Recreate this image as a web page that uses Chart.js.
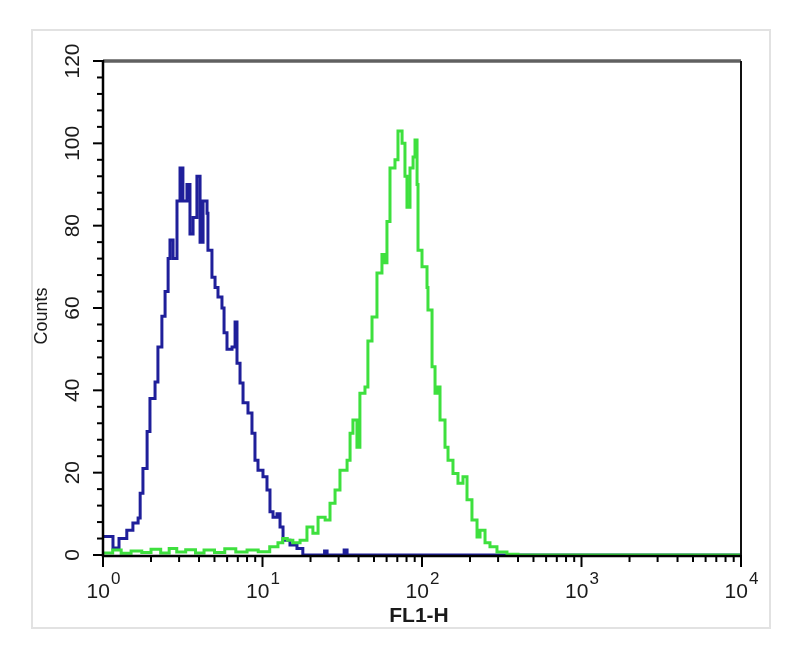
<!DOCTYPE html>
<html>
<head>
<meta charset="utf-8">
<script src="https://cdn.jsdelivr.net/npm/chart.js@4"></script>
<style>
  html, body { margin: 0; padding: 0; background: #fff; }
  #wrap { width: 800px; height: 656px; position: relative; }
</style>
</head>
<body>
<div id="wrap"><canvas id="histChart" width="800" height="656"></canvas></div>
<script>
// FL1-H channel values (x) and counts (y)
const blueX = [1.0, 1.155, 1.26, 1.41, 1.54, 1.66, 1.71, 1.78, 1.89, 1.97, 2.12, 2.21, 2.34, 2.45, 2.56, 2.63, 2.75, 2.91, 3.04, 3.17, 3.36, 3.51, 3.67, 3.88, 4.06, 4.24, 4.49, 4.55, 4.82, 5.04, 5.26, 5.57, 5.74, 5.99, 6.44, 6.73, 6.92, 7.23, 7.55, 8.11, 8.59, 8.97, 9.37, 10.07, 10.67, 11.14, 11.64, 12.33, 12.88, 13.45, 14.87, 16.45, 17.9, 24.5, 25.4, 32.5, 33.9, 10000];
const blueCounts = [4.5, 1.7, 4, 6, 7.8, 9, 15, 21, 30, 38, 42, 50.5, 58, 64, 72, 76.5, 72, 86, 94, 86, 90, 78, 82, 92, 76, 86, 83, 74, 67.5, 65, 62.7, 60, 54, 50, 50.5, 56.6, 46.6, 41.8, 37, 34.5, 29.6, 23, 20.6, 19, 15.8, 10.5, 9.2, 10, 6.8, 3.6, 2.4, 1.6, 0, 1, 0, 1.2, 0, 0];

const greenX = [1.0, 1.15, 1.3, 1.5, 1.75, 2.0, 2.3, 2.6, 2.9, 3.3, 3.8, 4.3, 5.0, 5.8, 6.8, 8.0, 9.4, 11.1, 12.5, 13.4, 14.3, 15.5, 17.2, 19.0, 20.7, 22.3, 24.7, 26.5, 28.5, 30.6, 33.9, 35.4, 36.9, 39.1, 40.8, 43.9, 45.8, 48.6, 52.2, 56.1, 58.6, 60.3, 63.0, 67.7, 70.7, 75.0, 78.2, 80.5, 84.1, 87.9, 90.4, 93.1, 94.4, 100, 107.5, 109, 115.6, 120.7, 124.2, 129.7, 139.4, 145.6, 156.4, 168.1, 180.7, 191.5, 205.7, 221.3, 231.1, 248.4, 266.8, 295.1, 341, 400, 10000];
const greenCounts = [0.5, 1.2, 0.4, 1.0, 0.6, 1.4, 0.5, 1.6, 0.7, 1.3, 0.5, 1.2, 0.6, 1.5, 0.7, 1.2, 0.8, 2, 3, 4, 3.6, 3, 3.6, 6.8, 5.3, 9.2, 8.5, 12.6, 15.8, 20.6, 23, 29.6, 32.8, 26.2, 39.3, 40.8, 52, 57.8, 68.5, 73, 71, 81, 94, 96, 103, 100, 92, 84.5, 94, 96.7, 100.8, 90, 74, 70, 65, 59.5, 45.7, 39.3, 40.8, 32.8, 26.2, 23, 19.8, 17.4, 19, 13.4, 8.5, 4.4, 6, 3, 2, 0.7, 0.2, 0, 0];

// axis ticks
const xDecades = [1, 10, 100, 1000, 10000];
const xExponents = ['0', '1', '2', '3', '4'];
const xMinorSteps = [2, 3, 4, 5, 6, 7, 8, 9];
const yLabels = [0, 20, 40, 60, 80, 100, 120];
const yMinorStep = 4;

const toPoints = (xs, ys) => xs.map((x, i) => ({ x: x, y: ys[i] }));

// draws frame, ticks, labels and titles using the chart scales
const axesPlugin = {
    id: 'fcsAxes',
    beforeDraw(chart) {
        const c = chart.ctx;
        c.save();
        c.fillStyle = '#fff';
        c.fillRect(0, 0, chart.width, chart.height);
        c.strokeStyle = '#e2e2e2';
        c.lineWidth = 2;
        c.strokeRect(32, 30, 738, 598);
        c.restore();
    },
    afterDraw(chart) {
        const c = chart.ctx;
        const a = chart.chartArea;
        const xs = chart.scales.x, ys = chart.scales.y;
        c.save();

        // top and right border
        c.strokeStyle = '#606060';
        c.lineWidth = 3.5;
        c.beginPath(); c.moveTo(a.left, a.top); c.lineTo(a.right, a.top); c.stroke();
        c.strokeStyle = '#111';
        c.lineWidth = 2;
        c.beginPath(); c.moveTo(a.right, a.top); c.lineTo(a.right, a.bottom); c.stroke();

        // axes
        c.strokeStyle = '#000';
        c.lineWidth = 2.5;
        c.beginPath(); c.moveTo(a.left, a.top - 1); c.lineTo(a.left, a.bottom + 1); c.lineTo(a.right, a.bottom + 1); c.stroke();

        // y ticks
        c.lineWidth = 2;
        for (let v = 0; v <= 120; v += yMinorStep) {
            const py = ys.getPixelForValue(v);
            const len = yLabels.includes(v) ? 10 : 6;
            c.beginPath(); c.moveTo(a.left, py); c.lineTo(a.left - len, py); c.stroke();
        }
        // x ticks
        xDecades.forEach((d, i) => {
            const px = xs.getPixelForValue(d);
            c.beginPath(); c.moveTo(px, a.bottom); c.lineTo(px, a.bottom + 12); c.stroke();
            if (i < xDecades.length - 1) {
                xMinorSteps.forEach(m => {
                    const mx = xs.getPixelForValue(d * m);
                    c.beginPath(); c.moveTo(mx, a.bottom); c.lineTo(mx, a.bottom + 7); c.stroke();
                });
            }
        });

        // y labels (rotated)
        c.fillStyle = '#1a1a1a';
        c.font = '21px "Liberation Sans", Arial, sans-serif';
        c.textAlign = 'center';
        c.textBaseline = 'middle';
        yLabels.forEach(v => {
            const py = ys.getPixelForValue(v);
            c.save();
            c.translate(73, py);
            c.rotate(-Math.PI / 2);
            c.fillText(String(v), 0, 0);
            c.restore();
        });

        // x labels 10^n
        c.textBaseline = 'alphabetic';
        c.textAlign = 'left';
        xDecades.forEach((d, i) => {
            const px = xs.getPixelForValue(d);
            c.font = '21px "Liberation Sans", Arial, sans-serif';
            const w1 = c.measureText('10').width;
            c.font = '17px "Liberation Sans", Arial, sans-serif';
            const w2 = c.measureText(xExponents[i]).width;
            const x0 = px - (w1 + w2) / 2;
            c.font = '21px "Liberation Sans", Arial, sans-serif';
            c.fillText('10', x0, 598);
            c.font = '17px "Liberation Sans", Arial, sans-serif';
            c.fillText(xExponents[i], x0 + w1 + 1, 584);
        });

        // titles
        c.textAlign = 'center';
        c.font = 'bold 21px "Liberation Sans", Arial, sans-serif';
        c.fillText('FL1-H', (a.left + a.right) / 2 - 3, 622);
        c.save();
        c.translate(47, (a.top + a.bottom) / 2 + 8);
        c.rotate(-Math.PI / 2);
        c.font = '18px "Liberation Sans", Arial, sans-serif';
        c.fillText('Counts', 0, 0);
        c.restore();

        c.restore();
    }
};

const ctx = document.getElementById('histChart').getContext('2d');
const histChart = new Chart(ctx, {
    type: 'scatter',
    data: {
        datasets: [{
            label: 'Control',
            data: toPoints(blueX, blueCounts),
            showLine: true,
            stepped: true,
            borderColor: '#1f1f9a',
            borderWidth: 3,
            pointRadius: 0,
            clip: 4,
            order: 1
        }, {
            label: 'Antibody',
            data: toPoints(greenX, greenCounts),
            showLine: true,
            stepped: true,
            borderColor: '#3ee03e',
            borderWidth: 3,
            pointRadius: 0,
            clip: 4,
            order: 0
        }]
    },
    options: {
        responsive: false,
        animation: false,
        layout: { padding: { left: 0, right: 59, top: 61, bottom: 0 } },
        plugins: {
            legend: { display: false },
            tooltip: { enabled: false }
        },
        scales: {
            x: {
                type: 'logarithmic',
                min: 1,
                max: 10000,
                ticks: { display: false },
                grid: { display: false },
                border: { display: false },
                afterFit: s => { s.height = 101; }
            },
            y: {
                type: 'linear',
                min: 0,
                max: 120,
                ticks: { display: false },
                grid: { display: false },
                border: { display: false },
                afterFit: s => { s.width = 103; }
            }
        }
    },
    plugins: [axesPlugin]
});
</script>
</body>
</html>
